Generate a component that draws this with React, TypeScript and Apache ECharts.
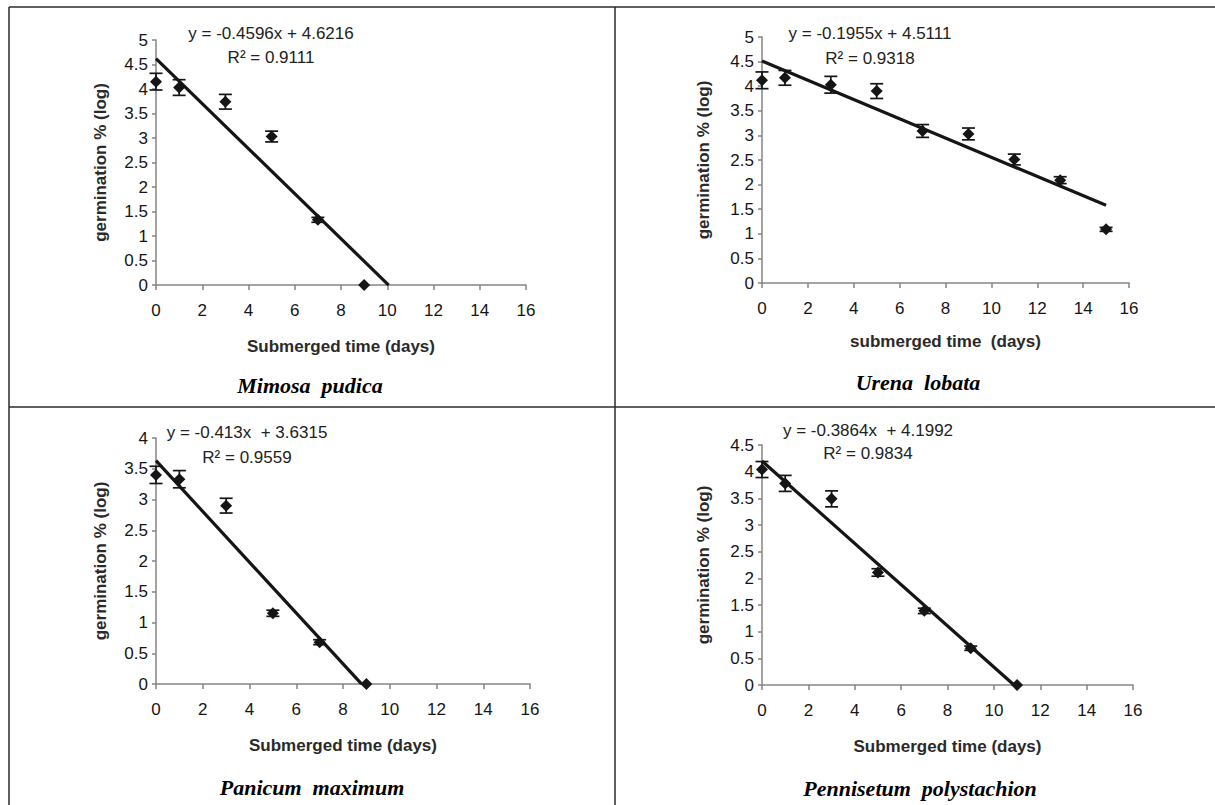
import React, { useEffect, useRef } from "react";
import * as echarts from "echarts";

// ---- data ----
const speciesNames = ["Mimosa  pudica", "Urena  lobata", "Panicum  maximum", "Pennisetum  polystachion"];
const xAxisNames = ["Submerged time (days)", "submerged time  (days)", "Submerged time (days)", "Submerged time (days)"];
const yAxisName = "germination % (log)";

const daysMimosa = [0, 1, 3, 5, 7, 9];
const meanMimosa = [4.15, 4.03, 3.74, 3.03, 1.33, 0];
const errMimosa = [0.17, 0.16, 0.15, 0.11, 0.05, 0];

const daysUrena = [0, 1, 3, 5, 7, 9, 11, 13, 15];
const meanUrena = [4.12, 4.17, 4.03, 3.9, 3.09, 3.03, 2.51, 2.09, 1.09];
const errUrena = [0.17, 0.15, 0.17, 0.15, 0.13, 0.12, 0.11, 0.07, 0.04];

const daysPanicum = [0, 1, 3, 5, 7, 9];
const meanPanicum = [3.4, 3.33, 2.9, 1.15, 0.68, 0];
const errPanicum = [0.14, 0.14, 0.12, 0.05, 0.04, 0];

const daysPennisetum = [0, 1, 3, 5, 7, 9, 11];
const meanPennisetum = [4.04, 3.78, 3.49, 2.11, 1.39, 0.69, 0];
const errPennisetum = [0.15, 0.15, 0.15, 0.07, 0.05, 0.04, 0];

const slopes = [-0.4596, -0.1955, -0.413, -0.3864];
const intercepts = [4.6216, 4.5111, 3.6315, 4.1992];
const slopeLabels = ["-0.4596x + 4.6216", "-0.1955x + 4.5111", "-0.413x  + 3.6315", "-0.3864x  + 4.1992"];
const r2Labels = ["0.9111", "0.9318", "0.9559", "0.9834"];
const trendEndX = [10.06, 15, 8.79, 10.87];

const yMax = [5, 5, 4, 4.5];
const xMax = 16;

const panelDays = [daysMimosa, daysUrena, daysPanicum, daysPennisetum];
const panelMeans = [meanMimosa, meanUrena, meanPanicum, meanPennisetum];
const panelErrs = [errMimosa, errUrena, errPanicum, errPennisetum];

// ---- layout ----
const grids = [
  { left: 156, top: 40, width: 370, height: 245 },
  { left: 762, top: 37, width: 367, height: 246 },
  { left: 156, top: 438, width: 374, height: 246 },
  { left: 762, top: 445, width: 371, height: 240 },
];
const eqPos = [
  [271, 33, 57],
  [870, 33, 58],
  [247, 432, 457],
  [868, 430, 453],
];
const titlePos = [
  [310, 385],
  [918, 382],
  [312, 787],
  [920, 788],
];

const SANS = "'Liberation Sans', Arial, sans-serif";
const SERIF = "'Liberation Serif', 'Times New Roman', serif";
const AXIS_COLOR = "#858585";
const INK = "#151515";

export default function App() {
  const ref = useRef<HTMLDivElement>(null);

  useEffect(() => {
    if (!ref.current) return;
    const chart = echarts.init(ref.current, undefined, { renderer: "svg" });

    const xAxes: any[] = [];
    const yAxes: any[] = [];
    const series: any[] = [];
    const graphics: any[] = [];

    grids.forEach((g, i) => {
      xAxes.push({
        type: "value",
        gridIndex: i,
        min: 0,
        max: xMax,
        interval: 2,
        name: xAxisNames[i],
        nameLocation: "middle",
        nameGap: i === 1 ? 50 : 53,
        nameTextStyle: { fontFamily: SANS, fontSize: 17, fontWeight: "bold", color: "#2a2a2a" },
        axisLine: { show: true, onZero: false, lineStyle: { color: AXIS_COLOR, width: 1.5 } },
        axisTick: { show: true, inside: false, length: 5, lineStyle: { color: AXIS_COLOR, width: 1.5 } },
        axisLabel: { fontFamily: SANS, fontSize: 17, color: INK, margin: 17 },
        splitLine: { show: false },
      });
      yAxes.push({
        type: "value",
        gridIndex: i,
        min: 0,
        max: yMax[i],
        interval: 0.5,
        name: yAxisName,
        nameLocation: "middle",
        nameRotate: 90,
        nameGap: i % 2 === 0 ? 47 : 50,
        nameTextStyle: { fontFamily: SANS, fontSize: 17, fontWeight: "bold", color: "#2a2a2a" },
        axisLine: { show: true, onZero: false, lineStyle: { color: AXIS_COLOR, width: 1.5 } },
        axisTick: { show: true, inside: false, length: 4, lineStyle: { color: AXIS_COLOR, width: 1.5 } },
        axisLabel: { fontFamily: SANS, fontSize: 17, color: INK, margin: 8 },
        splitLine: { show: false },
      });

      const days = panelDays[i];
      const means = panelMeans[i];
      const errs = panelErrs[i];

      // error bars
      const errData = days
        .map((d, k) => [d, means[k] - errs[k], means[k] + errs[k], errs[k]])
        .filter((r) => r[3] > 0);
      series.push({
        type: "custom",
        xAxisIndex: i,
        yAxisIndex: i,
        z: 2,
        silent: true,
        clip: false,
        encode: { x: 0, y: [1, 2] },
        data: errData,
        renderItem: (_p: any, api: any) => {
          const x = api.value(0);
          const top = api.coord([x, api.value(2)]);
          const bot = api.coord([x, api.value(1)]);
          const hw = 6.5;
          const st = { stroke: INK, lineWidth: 1.7 };
          return {
            type: "group",
            children: [
              { type: "line", shape: { x1: top[0], y1: top[1], x2: bot[0], y2: bot[1] }, style: st },
              { type: "line", shape: { x1: top[0] - hw, y1: top[1], x2: top[0] + hw, y2: top[1] }, style: st },
              { type: "line", shape: { x1: bot[0] - hw, y1: bot[1], x2: bot[0] + hw, y2: bot[1] }, style: st },
            ],
          };
        },
      });

      // trend line
      const xe = trendEndX[i];
      series.push({
        type: "line",
        xAxisIndex: i,
        yAxisIndex: i,
        z: 3,
        silent: true,
        clip: false,
        symbol: "none",
        lineStyle: { color: INK, width: 3.2 },
        data: [
          [0, intercepts[i]],
          [xe, intercepts[i] + slopes[i] * xe],
        ],
      });

      // points
      series.push({
        type: "scatter",
        xAxisIndex: i,
        yAxisIndex: i,
        z: 10,
        clip: false,
        symbol: "diamond",
        symbolSize: 12,
        itemStyle: { color: INK, opacity: 1 },
        data: days.map((d, k) => [d, means[k]]),
      });

      // equation text
      const [ex, ey, ry] = eqPos[i];
      graphics.push({
        type: "text",
        x: ex,
        y: ey,
        style: {
          text: "y = " + slopeLabels[i],
          font: `17px ${SANS}`,
          fill: "#222",
          align: "center",
          verticalAlign: "middle",
        },
      });
      graphics.push({
        type: "text",
        x: ex,
        y: ry,
        style: {
          text: "R² = " + r2Labels[i],
          font: `17px ${SANS}`,
          fill: "#222",
          align: "center",
          verticalAlign: "middle",
        },
      });
      // species title
      graphics.push({
        type: "text",
        x: titlePos[i][0],
        y: titlePos[i][1],
        style: {
          text: speciesNames[i],
          font: `italic bold 22px ${SERIF}`,
          fill: "#000",
          align: "center",
          verticalAlign: "middle",
        },
      });
    });

    // frame lines
    const frame = { stroke: "#2b2b2b", lineWidth: 1.5 };
    graphics.push({ type: "line", shape: { x1: 9, y1: 7, x2: 1215, y2: 7 }, style: frame });
    graphics.push({ type: "line", shape: { x1: 9, y1: 7, x2: 9, y2: 805 }, style: frame });
    graphics.push({ type: "line", shape: { x1: 615, y1: 7, x2: 615, y2: 805 }, style: frame });
    graphics.push({ type: "line", shape: { x1: 9, y1: 407, x2: 1215, y2: 407 }, style: frame });

    chart.setOption({
      animation: false,
      backgroundColor: "#ffffff",
      grid: grids.map((g) => ({ ...g, containLabel: false })),
      xAxis: xAxes,
      yAxis: yAxes,
      series,
      graphic: graphics,
    });

    return () => chart.dispose();
  }, []);

  return (
    <div
      ref={ref}
      style={{ position: "fixed", left: 0, top: 0, width: 1215, height: 805, background: "#fff" }}
    />
  );
}
